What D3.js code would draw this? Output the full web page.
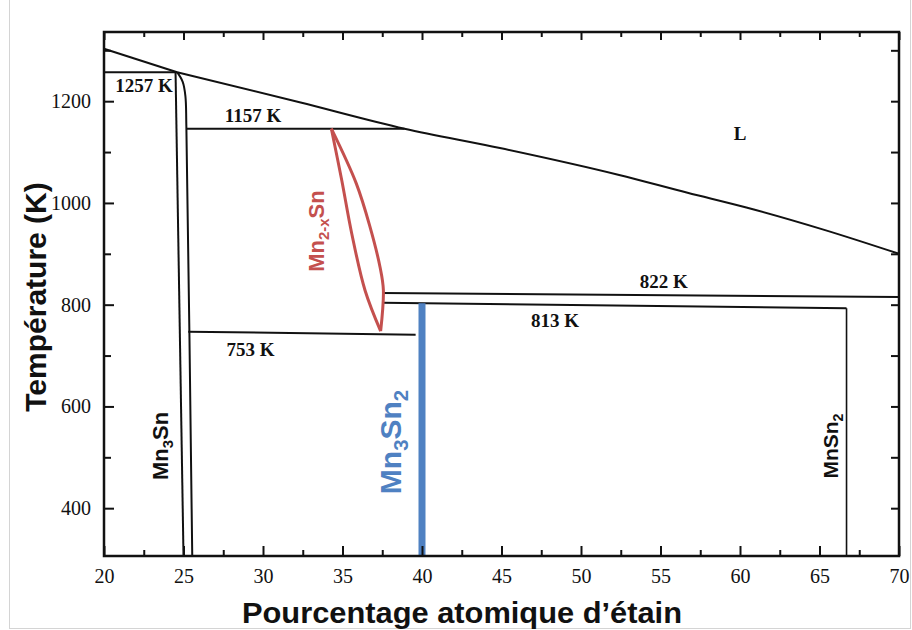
<!DOCTYPE html>
<html><head><meta charset="utf-8">
<script src="https://cdn.jsdelivr.net/npm/d3@7"></script>
<style>html,body{margin:0;padding:0;background:#fff;}svg{display:block;}</style>
</head><body>
<svg id="c" width="912" height="630"></svg>
<script>
// ---- data (atomic % Sn, temperature K) ----
const xTicksMajor = [20,25,30,35,40,45,50,55,60,65,70];
const xTicksMinor = [22.5,27.5,32.5,37.5,42.5,47.5,52.5,57.5,62.5,67.5];
const yTicksMajor = [400,600,800,1000,1200];
const yTicksMinor = [500,700,900,1100,1300];
const yTicksRight = [400,500,600,700,800,900,1000,1100,1200,1300];

const liquidusLeft = [[20,1303],[24.6,1257]];
const liquidusRight = [[24.6,1257],[32.3,1198],[38.9,1146],[44.9,1108],[52.4,1055],[56.7,1020],[60.4,991],[65.3,947],[70,900]];
const line1257 = [[20,1257],[24.6,1257]];
const mn3snLeft = [[24.5,1257],[25.0,306]];
const mn3snRight = [[24.6,1257],[24.95,1238],[25.12,1210],[25.18,1150],[25.55,306]];
const line1157 = [[25.18,1146],[38.9,1146]];
const line753 = [[25.3,747],[39.6,741]];
const line822 = [[37.5,823],[70,815]];
const line813 = [[37.5,804],[66.7,793]];
const mnsn2Line = [[66.7,793],[66.7,306]];
const mn3sn2Line = [[40,803],[40,306]];
const lensRight = [[34.3,1146],[35.87,1038],[36.73,953],[37.36,874],[37.57,829],[37.4,748]];
const lensLeft = [[34.3,1146],[34.95,1045],[35.58,940],[36.42,828],[37.4,748]];

const tempLabels = [
  {t:"1257 K", x:20.7, y:1218},
  {t:"1157 K", x:27.6, y:1160},
  {t:"753 K", x:27.7, y:700},
  {t:"813 K", x:46.85, y:756},
  {t:"822 K", x:53.7, y:833},
  {t:"L", x:59.6, y:1124}
];

// ---- scales ----
const X0=104, X1=899, YB=556, YT=32;
const x = d3.scaleLinear().domain([20,70]).range([X0,X1]);
const y = d3.scaleLinear().domain([306,1336]).range([YB,YT]);

const svg = d3.select("#c");
// faint outer border of the picture
svg.append("rect").attr("x",9.5).attr("y",-2).attr("width",901).attr("height",630.5)
  .attr("fill","none").attr("stroke","#d4d4d4").attr("stroke-width",1);

const line = d3.line().x(d=>x(d[0])).y(d=>y(d[1]));
const smooth = d3.line().x(d=>x(d[0])).y(d=>y(d[1])).curve(d3.curveCatmullRom);
const mono = d3.line().x(d=>x(d[0])).y(d=>y(d[1])).curve(d3.curveMonotoneX);

const g = svg.append("g");
function draw(data, gen, w, col){
  g.append("path").attr("d",gen(data)).attr("fill","none")
   .attr("stroke",col||"#111").attr("stroke-width",w).attr("stroke-linejoin","round");
}
draw(liquidusLeft, line, 2);
draw(liquidusRight, mono, 2);
draw(line1257, line, 2);
draw(mn3snLeft, line, 2);
draw(mn3snRight, smooth, 2);
draw(line1157, line, 2);
draw(line753, line, 2);
draw(line822, line, 2);
draw(line813, line, 2);
draw(mnsn2Line, line, 1.6);
draw(mn3sn2Line, line, 7, "#4f81c2");
draw(lensRight, smooth, 3, "#c4504e");
draw(lensLeft, smooth, 3, "#c4504e");

// ---- axes (ticks pointing inward) ----
const serif = "'Liberation Serif','Times New Roman',serif";
const sans = "'Liberation Sans',Arial,Helvetica,sans-serif";

function styleAxis(sel){
  sel.select(".domain").remove();
  sel.selectAll("line").attr("stroke","#111").attr("stroke-width",2);
  sel.selectAll("text").attr("font-family",serif).attr("font-size",20).attr("fill","#111");
}
svg.append("g").attr("transform",`translate(${X0},0)`)
  .call(d3.axisLeft(y).tickValues(yTicksMajor).tickSizeInner(-10).tickSizeOuter(0).tickPadding(13).tickFormat(d3.format("d")))
  .call(styleAxis);
svg.append("g").attr("transform",`translate(${X0},0)`)
  .call(d3.axisLeft(y).tickValues(yTicksMinor).tickSizeInner(-7).tickSizeOuter(0).tickFormat(""))
  .call(styleAxis);
svg.append("g").attr("transform",`translate(${X1},0)`)
  .call(d3.axisRight(y).tickValues(yTicksRight).tickSizeInner(-8).tickSizeOuter(0).tickFormat(""))
  .call(styleAxis);
svg.append("g").attr("transform",`translate(0,${YB})`)
  .call(d3.axisBottom(x).tickValues(xTicksMajor).tickSizeInner(-10).tickSizeOuter(0).tickPadding(13).tickFormat(d3.format("d")))
  .call(styleAxis);
svg.append("g").attr("transform",`translate(0,${YB})`)
  .call(d3.axisBottom(x).tickValues(xTicksMinor).tickSizeInner(-6).tickSizeOuter(0).tickFormat(""))
  .call(styleAxis);
svg.append("g").attr("transform",`translate(0,${YT})`)
  .call(d3.axisTop(x).tickValues(xTicksMajor).tickSizeInner(-8).tickSizeOuter(0).tickFormat(""))
  .call(styleAxis);
svg.append("g").attr("transform",`translate(0,${YT})`)
  .call(d3.axisTop(x).tickValues(xTicksMinor).tickSizeInner(-5).tickSizeOuter(0).tickFormat(""))
  .call(styleAxis);

// frame
svg.append("rect").attr("x",X0).attr("y",YT).attr("width",X1-X0).attr("height",YB-YT)
  .attr("fill","none").attr("stroke","#111").attr("stroke-width",2.5);

// ---- temperature labels ----
svg.append("g").selectAll("text").data(tempLabels).join("text")
  .attr("x",d=>x(d.x)).attr("y",d=>y(d.y))
  .attr("font-family",serif).attr("font-size",19).attr("font-weight","bold").attr("fill","#111")
  .text(d=>d.t);

// ---- phase labels (rotated) ----
function phaseLabel(px, py, parts, size, col){
  const t = svg.append("text").attr("transform",`translate(${px},${py}) rotate(-90)`)
    .attr("text-anchor","middle").attr("font-family",sans).attr("font-weight","bold")
    .attr("font-size",size).attr("fill",col);
  parts.forEach(p=>{
    const s = t.append("tspan").text(p[0]);
    if(p[1]){ s.attr("font-size",size*0.68).attr("dy",size*0.22); }
    else if(p[2]){ s.attr("dy",-size*0.22); }
  });
}
phaseLabel(168, 446, [["Mn"],["3",1],["Sn",0,1]], 22, "#111");
phaseLabel(838, 446, [["MnSn"],["2",1]], 21, "#111");
phaseLabel(401, 442, [["Mn"],["3",1],["Sn",0,1],["2",1]], 30, "#4f81c2");
phaseLabel(324, 231, [["Mn"],["2-x",1],["Sn",0,1]], 22, "#c4504e");

// ---- axis titles ----
svg.append("text").attr("transform","translate(46,297) rotate(-90)")
  .attr("text-anchor","middle").attr("font-family",sans).attr("font-weight","bold")
  .attr("font-size",30).attr("fill","#111").text("Température (K)");
svg.append("text").attr("x",462).attr("y",623)
  .attr("text-anchor","middle").attr("font-family",sans).attr("font-weight","bold")
  .attr("font-size",30).attr("fill","#111").attr("textLength",440).attr("lengthAdjust","spacingAndGlyphs")
  .text("Pourcentage atomique d’étain");
</script>
</body></html>
